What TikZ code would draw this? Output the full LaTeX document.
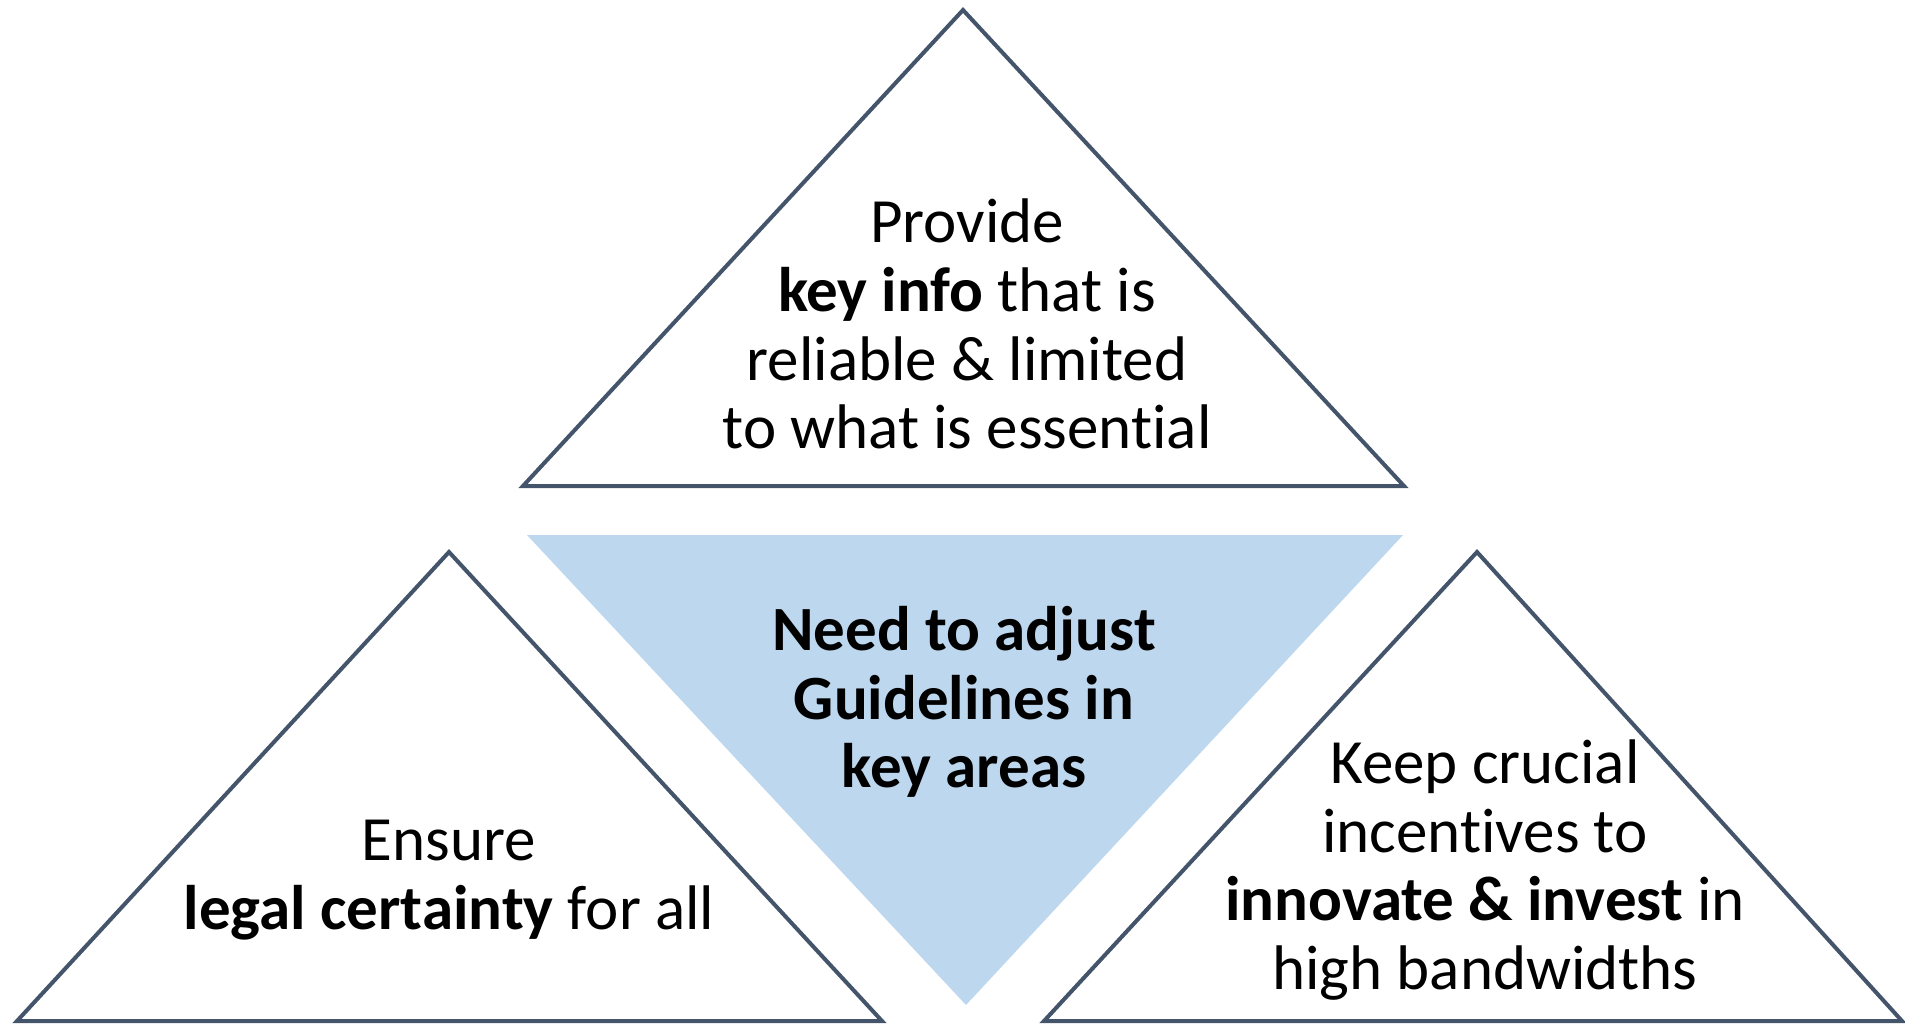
\documentclass[tikz,border=0pt]{standalone}
\usepackage{fontspec}
\setmainfont{Carlito}[Ligatures=NoCommon]
\definecolor{edge}{HTML}{44546A}
\definecolor{paleblue}{HTML}{BDD7EE}
\tikzset{
  tri/.style={draw=edge, line width=4pt, line join=miter, fill=white},
  core/.style={fill=paleblue, draw=none},
  label/.style={align=center, inner sep=0pt, font=\fontsize{63}{68.8}\selectfont}
}
\begin{document}
\begin{tikzpicture}[x=1pt,y=-1pt]
  \useasboundingbox (0,0) rectangle (1905,1023);
  % outlined triangles
  \draw[tri] (963,10) -- (523,486) -- (1404,486) -- cycle;
  \draw[tri] (449,552) -- (17,1021) -- (882,1021) -- cycle;
  \draw[tri] (1477,552) -- (1044,1021) -- (1902,1021) -- cycle;
  % shaded centre triangle
  \fill[core] (527,535) -- (1403,535) -- (966,1005) -- cycle;
  % texts
  \node[label] (info) at (967,324) {Provide\\\textbf{key info} that is\\reliable \& limited\\to what is essential};
  \node[label] (need) at (964,702) {\textbf{Need to adjust}\\\textbf{Guidelines in}\\\textbf{key areas}};
  \node[label] (legal) at (449,880) {Ensure\\\textbf{legal certainty} for all};
  \node[label] (keep) at (1485,870) {Keep crucial\\incentives to\\\textbf{innovate \& invest} in\\high bandwidths};
\end{tikzpicture}
\end{document}
